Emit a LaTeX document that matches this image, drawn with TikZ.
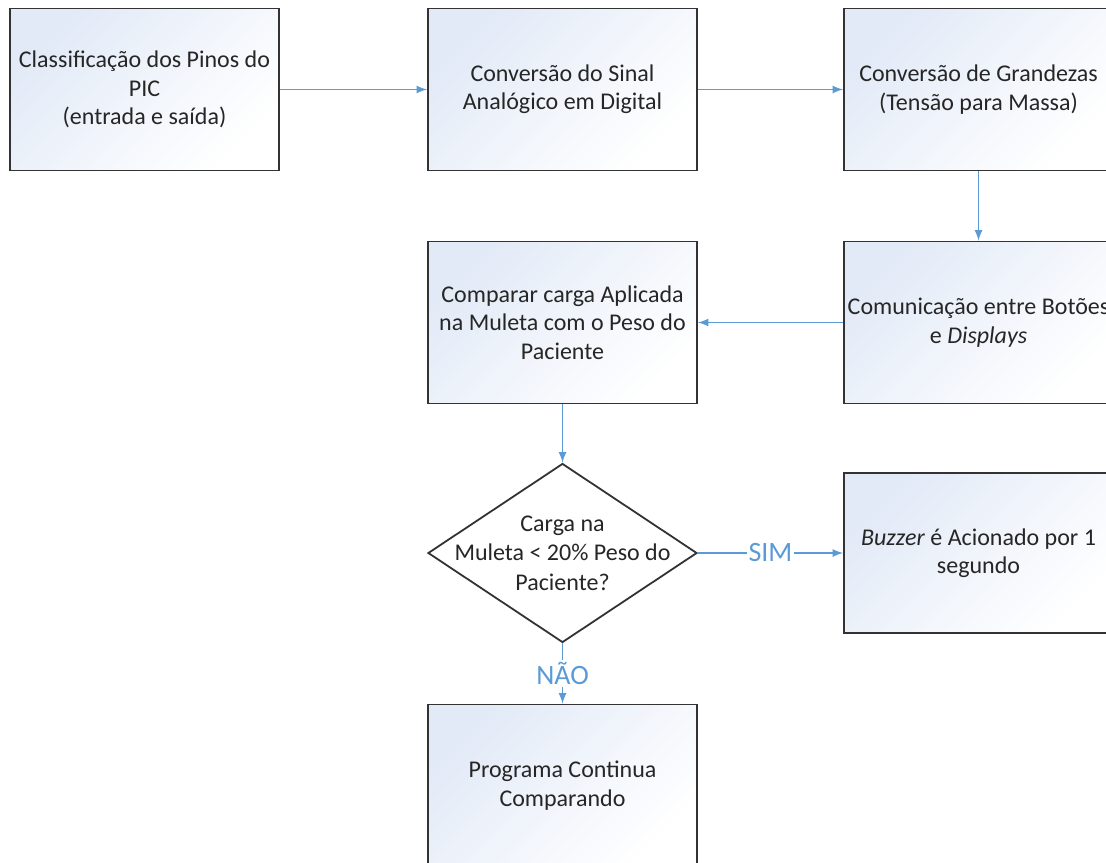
\documentclass[tikz,border=0pt]{standalone}
\usepackage{fontspec}
\setmainfont{Carlito}
\usetikzlibrary{arrows,shapes.geometric}

\definecolor{seta}{RGB}{91,155,213}
\definecolor{fundo}{RGB}{226,234,247}

\begin{document}
\begin{tikzpicture}[x=0.5pt,y=-0.5pt]
				\tikzstyle{etapa}=[draw=black!80, line width=0.9pt, rectangle, top color=fundo, bottom color=white, shading angle=45, minimum width=134.5pt, minimum height=81pt, align=center, font=\fontsize{12}{14.2}\selectfont, text=black!85, inner sep=0pt]
				\tikzstyle{decisao}=[draw=black!80, line width=0.9pt, diamond, fill=white, minimum width=134.5pt, minimum height=80pt, align=center, font=\fontsize{12}{14.8}\selectfont, text=black!85, inner sep=-14pt]
				\tikzstyle{fluxo}=[draw=seta, line width=0.8pt, -latex]
				\tikzstyle{rotulo}=[fill=white, text=seta, inner sep=1pt, font=\fontsize{14}{16}\selectfont]
				\useasboundingbox (0,0) rectangle (1106,862);
				\draw (144.5,89.5) node[etapa] (pinos) {Classificação dos Pinos do\\PIC\\(entrada e saída)};
				\draw (562.5,89.5) node[etapa] (conversao) {Conversão do Sinal\\Analógico em Digital};
				\draw (978.5,89.5) node[etapa] (grandezas) {Conversão de Grandezas\\(Tensão para Massa)};
				\draw (978.5,322.5) node[etapa] (botoes) {Comunicação entre Botões\\e \textit{Displays}};
				\draw (562.5,322.5) node[etapa] (comparar) {Comparar carga Aplicada\\na Muleta com o Peso do\\Paciente};
				\draw (562.5,553) node[decisao] (carga) {Carga na\\Muleta < 20\% Peso do\\Paciente?};
				\draw (978.5,553) node[etapa, minimum height=80pt] (buzzer) {\textit{Buzzer} é Acionado por 1\\segundo};
				\draw (562.5,785.5) node[etapa] (continua) {Programa Continua\\Comparando};
				\draw[fluxo] (pinos) -- (conversao);
				\draw[fluxo] (conversao) -- (grandezas);
				\draw[fluxo] (grandezas) -- (botoes);
				\draw[fluxo] (botoes) -- (comparar);
				\draw[fluxo] (comparar) -- (carga);
				\draw[fluxo] (carga) -- node[rotulo] (sim) {SIM} (buzzer);
				\draw[fluxo] (carga) -- node[rotulo] (nao) {NÃO} (continua);
			\end{tikzpicture}
\end{document}
